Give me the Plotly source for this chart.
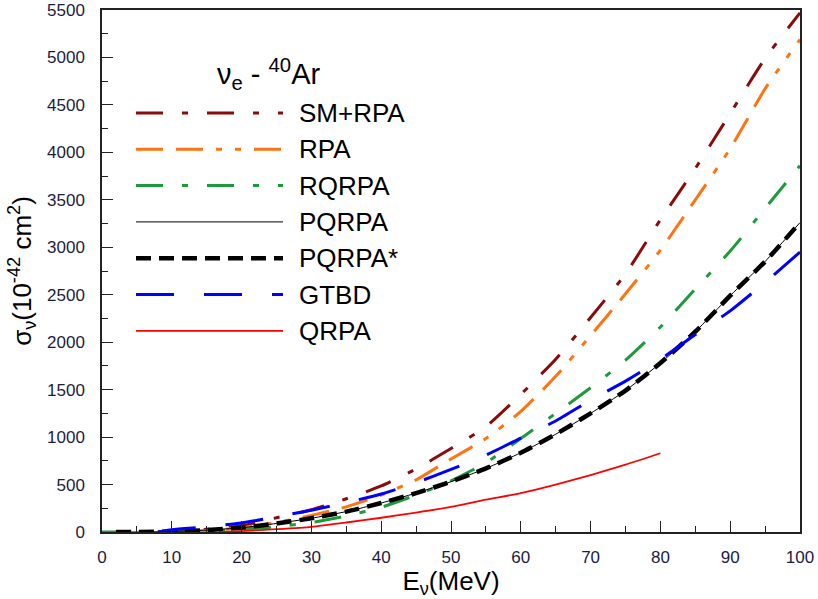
import plotly.graph_objects as go

# ---- data ----
names = ["SM+RPA", "RPA", "RQRPA", "PQRPA", "PQRPA*", "GTBD", "QRPA"]

x_smrpa = [8, 10, 15, 20, 25, 30, 35, 40, 45, 50, 55, 60, 65, 70, 75, 80, 85, 90, 95, 100]
y_smrpa = [0, 5, 30, 65, 150, 235, 350, 485, 665, 880, 1110, 1450, 1820, 2260, 2720, 3290, 3830, 4410, 4990, 5470]

x_rpa = [12, 15, 20, 25, 30, 35, 40, 45, 50, 55, 60, 65, 70, 75, 80, 85, 90, 95, 100]
y_rpa = [0, 15, 45, 100, 175, 265, 390, 550, 770, 985, 1270, 1640, 2070, 2510, 2970, 3500, 4040, 4670, 5190]

x_rqrpa = [0, 5, 10, 15, 20, 25, 30, 35, 40, 45, 50, 55, 60, 65, 70, 75, 80, 85, 90, 95, 100]
y_rqrpa = [0, 0, 0, 10, 30, 55, 100, 170, 260, 390, 540, 730, 985, 1250, 1520, 1810, 2160, 2560, 2960, 3410, 3860]

x_pqrpa = [2, 5, 10, 15, 20, 25, 30, 35, 40, 45, 50, 55, 60, 65, 70, 75, 80, 85, 90, 95, 100]
y_pqrpa = [0, 0, 5, 20, 45, 90, 145, 215, 305, 410, 530, 670, 835, 1030, 1250, 1490, 1780, 2110, 2490, 2850, 3260]

x_pqrpa_s = [2, 5, 10, 15, 20, 25, 30, 35, 40, 45, 50, 55, 60, 65, 70, 75, 80, 85, 90, 95, 100]
y_pqrpa_s = [0, 0, 5, 20, 45, 90, 145, 215, 305, 410, 530, 670, 835, 1030, 1250, 1490, 1780, 2110, 2490, 2850, 3260]

x_gtbd = [8, 10, 15, 20, 25, 30, 35, 40, 45, 50, 55, 60, 65, 70, 75, 80, 85, 90, 95, 100]
y_gtbd = [0, 25, 55, 95, 160, 230, 310, 400, 520, 660, 810, 990, 1170, 1390, 1590, 1820, 2080, 2330, 2630, 2950]

x_qrpa = [17, 20, 25, 30, 35, 40, 45, 50, 55, 60, 65, 70, 75, 80]
y_qrpa = [0, 10, 30, 55, 100, 150, 205, 265, 340, 410, 500, 600, 710, 830]

x_ticks = [0, 10, 20, 30, 40, 50, 60, 70, 80, 90, 100]
y_ticks = [0, 500, 1000, 1500, 2000, 2500, 3000, 3500, 4000, 4500, 5000, 5500]

# ---- styles ----
styles = {
    "SM+RPA": dict(color="#8b0a0a", width=3, dash="27px,19px,6px,19px"),
    "RPA": dict(color="#ff7410", width=3, dash="27px,13px,27px,13px,6px,13px,6px,13px"),
    "RQRPA": dict(color="#1e9a3c", width=3, dash="27px,19px,6px,19px"),
    "PQRPA": dict(color="#000000", width=1, dash="solid"),
    "PQRPA*": dict(color="#000000", width=4.5, dash="15px,8px"),
    "GTBD": dict(color="#0000ff", width=3, dash="38px,30px"),
    "QRPA": dict(color="#ff0000", width=1.8, dash="solid"),
}
series = {
    "SM+RPA": (x_smrpa, y_smrpa),
    "RPA": (x_rpa, y_rpa),
    "RQRPA": (x_rqrpa, y_rqrpa),
    "PQRPA*": (x_pqrpa_s, y_pqrpa_s),
    "PQRPA": (x_pqrpa, y_pqrpa),
    "GTBD": (x_gtbd, y_gtbd),
    "QRPA": (x_qrpa, y_qrpa),
}

FONT = "Liberation Sans, Arial, sans-serif"
fig = go.Figure()
for name in ["SM+RPA", "RPA", "RQRPA", "PQRPA*", "PQRPA", "GTBD", "QRPA"]:
    xs, ys = series[name]
    fig.add_trace(go.Scatter(x=xs, y=ys, mode="lines", name=name,
                             line=dict(shape="spline", smoothing=0.6, **styles[name]),
                             showlegend=False, hoverinfo="x+y+name"))

# ---- hand-made legend (long line samples like the reference) ----
L, R = 102, 800
T, B = 10, 532
def px(xp):
    return (xp - L) / (R - L)
def py(yp):
    return (B - yp) / (B - T)

row0, step = 113, 36.3
shapes = []
annotations = []
for i, name in enumerate(names):
    yy = py(row0 + i * step)
    st = styles[name]
    shapes.append(dict(type="line", xref="paper", yref="paper",
                       x0=px(136), x1=px(283), y0=yy, y1=yy,
                       line=dict(color=st["color"], width=st["width"], dash=st["dash"])))
    annotations.append(dict(xref="paper", yref="paper", x=px(297), y=yy,
                            xanchor="left", yanchor="middle", showarrow=False,
                            text=name, font=dict(family=FONT, size=26, color="#000")))

annotations.append(dict(xref="paper", yref="paper", x=px(268), y=py(74),
                        xanchor="center", yanchor="middle", showarrow=False,
                        text="ν<sub>e</sub> - <sup>40</sup>Ar",
                        font=dict(family=FONT, size=29, color="#000")))

axis_common = dict(
    showline=True, linecolor="#222", linewidth=1.5, mirror=True,
    ticks="inside", ticklen=11, tickwidth=1.2, tickcolor="#222",
    showgrid=False, zeroline=False, automargin=False,
    tickfont=dict(family=FONT, size=17, color="#1c1c40"),
)

fig.update_layout(
    width=818, height=599,
    margin=dict(l=L, r=818 - R, t=T, b=599 - B, autoexpand=False),
    paper_bgcolor="white", plot_bgcolor="white",
    xaxis=dict(range=[0, 100], tickvals=x_ticks,
               minor=dict(ticks="inside", ticklen=6, dtick=5, tickcolor="#222"),
               title=dict(text="E<sub>ν</sub>(MeV)", font=dict(family=FONT, size=26, color="#000"),
                          standoff=6),
               ticklabelstandoff=9, **axis_common),
    yaxis=dict(range=[0, 5500], tickvals=y_ticks,
               minor=dict(ticks="inside", ticklen=6, dtick=250, tickcolor="#222"),
               title=dict(text="σ<sub>ν</sub>(10<sup>-42</sup> cm<sup>2</sup>)",
                          font=dict(family=FONT, size=26, color="#000"), standoff=8),
               ticklabelstandoff=12, **axis_common),
    shapes=shapes, annotations=annotations,
    showlegend=False,
)

fig.write_html("out.html")
